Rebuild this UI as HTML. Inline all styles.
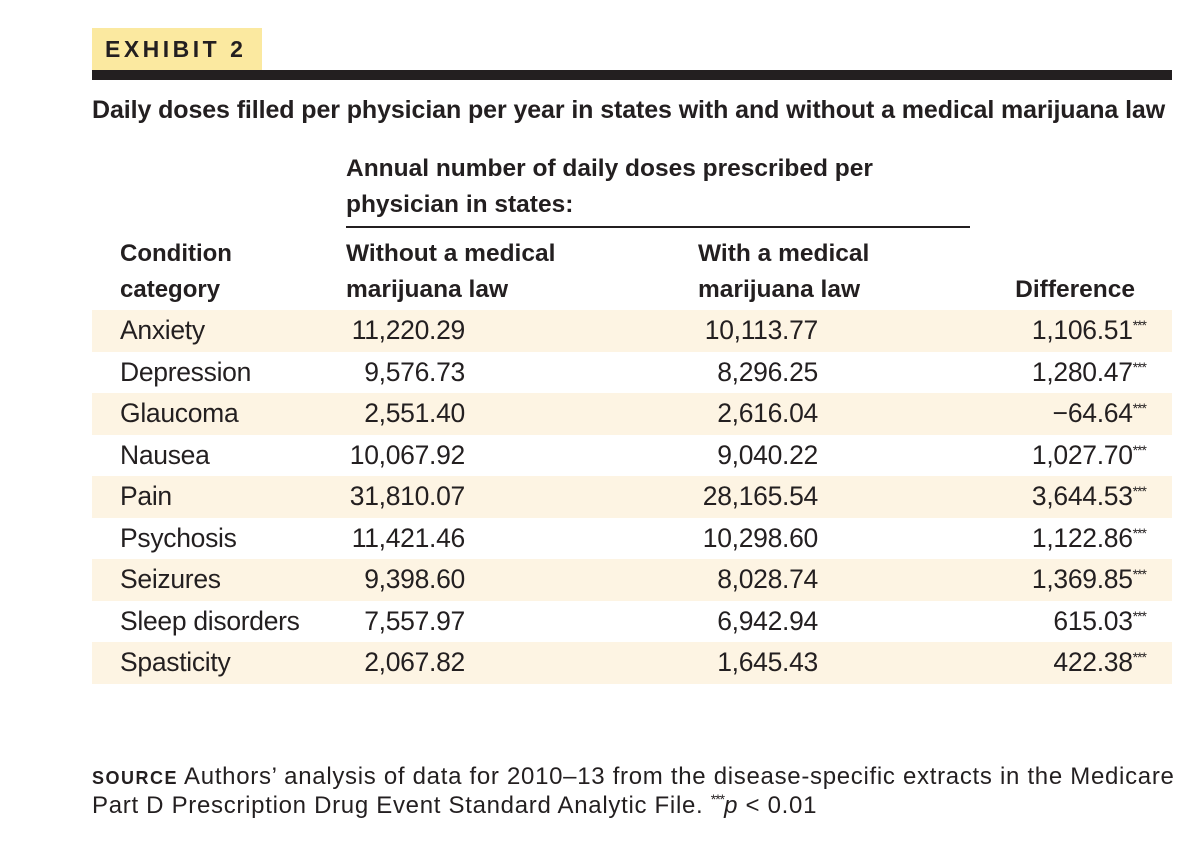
<!DOCTYPE html>
<html><head><meta charset="utf-8">
<style>
body{margin:0;width:1200px;height:841px;background:#fff;position:relative;overflow:hidden;font-family:"Liberation Sans",sans-serif;color:#231f20}
.a{position:absolute;white-space:nowrap}
.b{font-weight:bold}
.row{position:absolute;left:92px;width:1080px;height:41.5px}
.cell{position:absolute;top:0;line-height:41.5px;font-size:26.5px;white-space:nowrap;letter-spacing:-0.3px}
.st{font-size:14px;position:relative;top:-9px;letter-spacing:-1px}
</style></head><body>
<div class="a b" style="left:92px;top:28px;width:170px;height:42px;background:#fbe9a0;font-size:23px;letter-spacing:3.5px;line-height:42px;text-indent:13px">EXHIBIT 2</div>
<div class="a" style="left:92px;top:70px;width:1080px;height:10px;background:#231f20"></div>
<div class="a b" style="left:92px;top:96px;font-size:25px;letter-spacing:-0.1px">Daily doses filled per physician per year in states with and without a medical marijuana law</div>
<div class="a b" style="left:346px;top:151px;font-size:24.5px;line-height:36px">Annual number of daily doses prescribed per<br>physician in states:</div>
<div class="a" style="left:346px;top:226px;width:624px;height:2px;background:#231f20"></div>
<div class="a b" style="left:120px;top:236px;font-size:24px;line-height:36px">Condition<br>category</div>
<div class="a b" style="left:346px;top:236px;font-size:24.5px;line-height:36px">Without a medical<br>marijuana law</div>
<div class="a b" style="left:698px;top:236px;font-size:24.5px;line-height:36px">With a medical<br>marijuana law</div>
<div class="a b" style="right:65px;top:272px;font-size:24.5px;line-height:36px">Difference</div>
<div id="rows"></div>
<div class="a" style="left:92px;top:763px;font-size:24px;line-height:28px;letter-spacing:0.7px"><span style="font-weight:bold;font-size:18px;letter-spacing:1.5px">SOURCE</span> Authors’ analysis of data for 2010–13 from the disease-specific extracts in the Medicare<br>Part D Prescription Drug Event Standard Analytic File. <span class="st">***</span><i>p</i> &lt; 0.01</div>
<script>
const categories=["Anxiety","Depression","Glaucoma","Nausea","Pain","Psychosis","Seizures","Sleep disorders","Spasticity"];
const withoutLaw=["11,220.29","9,576.73","2,551.40","10,067.92","31,810.07","11,421.46","9,398.60","7,557.97","2,067.82"];
const withLaw=["10,113.77","8,296.25","2,616.04","9,040.22","28,165.54","10,298.60","8,028.74","6,942.94","1,645.43"];
const difference=["1,106.51","1,280.47","−64.64","1,027.70","3,644.53","1,122.86","1,369.85","615.03","422.38"];
const host=document.getElementById('rows');
categories.forEach((c,i)=>{
  const r=document.createElement('div');
  r.className='row';
  r.style.top=(310+i*41.5)+'px';
  if(i%2===0) r.style.background='#fdf4e3';
  
  
  r.innerHTML='<div class="cell" style="left:28px">'+c+'</div>'+
    '<div class="cell" style="right:707px">'+withoutLaw[i]+'</div>'+
    '<div class="cell" style="right:354px">'+withLaw[i]+'</div>'+
    '<div class="cell" style="right:26px">'+difference[i]+'<span class="st">***</span></div>';
  host.appendChild(r);
});
</script>
</body></html>
